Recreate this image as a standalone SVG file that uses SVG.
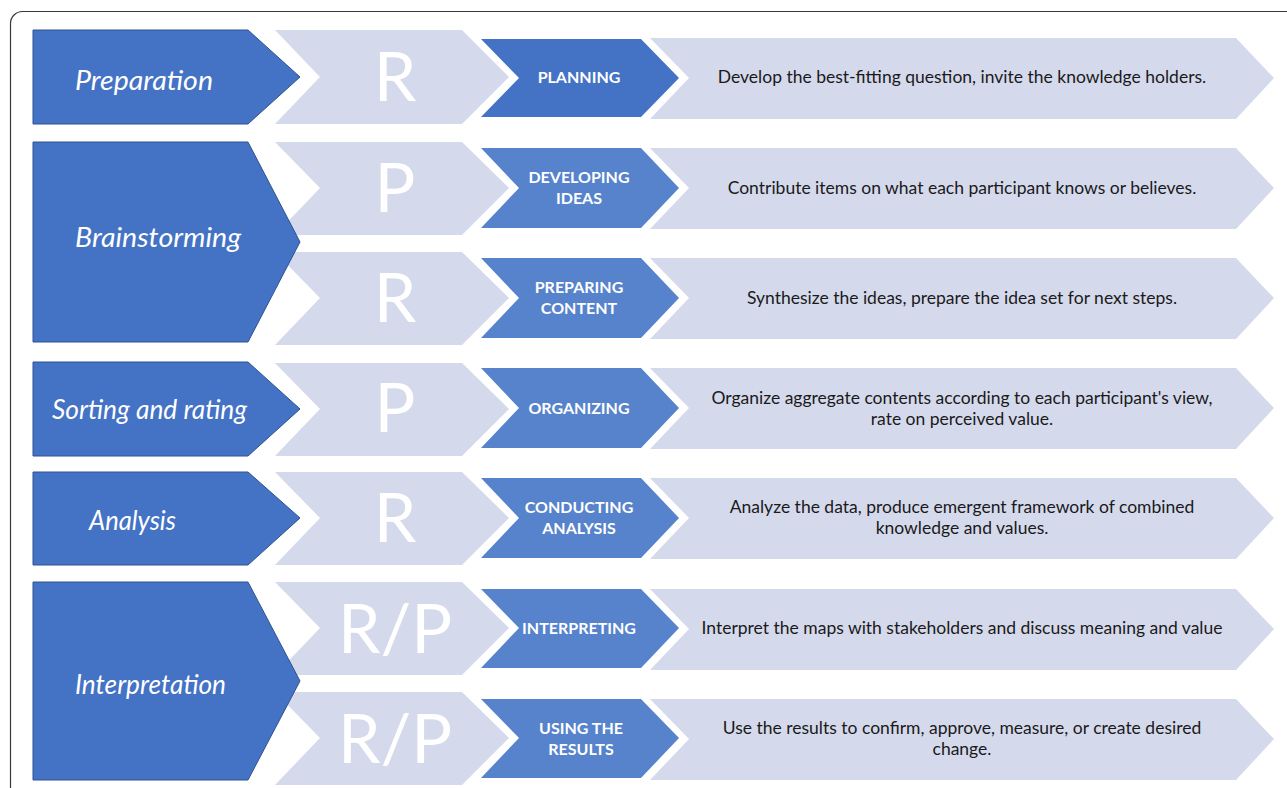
<svg xmlns="http://www.w3.org/2000/svg" width="1287" height="788" viewBox="0 0 1287 788">
<style>
.frame{fill:#fff;stroke:#3a3a3a;stroke-width:1.2}
.phase{fill:#4472C4;stroke:#2F528F;stroke-width:1}
.light{fill:#D5D9EC}
.sub{fill:#5683CB}
.sub1{fill:#4472C4}
.desc{fill:#D5D9EC}
.pt{font-family:Lato,"Open Sans",sans-serif;font-style:italic;font-size:27px;fill:#fff}
.big{font-family:Lato,"Open Sans",sans-serif;font-weight:normal;font-size:68px;fill:#fff;text-anchor:middle}
.st{font-family:Lato,"Open Sans",sans-serif;font-weight:bold;font-size:16px;fill:#fff;text-anchor:middle}
.dt{font-family:Lato,"Open Sans",sans-serif;font-size:17.5px;fill:#1a1a1a;text-anchor:middle}
</style>
<rect class="frame" x="10.5" y="11.5" width="1320" height="820" rx="12"/>

<g id="row1">
<polygon class="light" points="275,30 462,30 509,77 462,124 275,124 320,77"/>
<text class="big" x="395" y="101">R</text>
<polygon class="sub1" points="481,39 641,39 679,78 641,117 481,117 519,78"/>
<text class="st" x="579" y="83">PLANNING</text>
<polygon class="desc" points="650,38 1236,38 1274,78 1236,119 650,119 689,78"/>
<text class="dt" x="962" y="83">Develop the best-fitting question, invite the knowledge holders.</text>
</g>

<g id="row2a">
<polygon class="light" points="275,142 462,142 509,188 462,235 275,235 320,188"/>
<text class="big" x="395" y="212">P</text>
<polygon class="sub" points="481,148 641,148 679,188 641,228 481,228 519,188"/>
<text class="st" x="579" y="183">DEVELOPING</text>
<text class="st" x="579" y="204">IDEAS</text>
<polygon class="desc" points="650,148 1236,148 1274,188 1236,229 650,229 689,188"/>
<text class="dt" x="962" y="194">Contribute items on what each participant knows or believes.</text>
</g>

<g id="row2b">
<polygon class="light" points="275,252 462,252 509,298 462,345 275,345 320,298"/>
<text class="big" x="395" y="322">R</text>
<polygon class="sub" points="481,258 641,258 679,298 641,338 481,338 519,298"/>
<text class="st" x="579" y="293">PREPARING</text>
<text class="st" x="579" y="314">CONTENT</text>
<polygon class="desc" points="650,258 1236,258 1274,298 1236,339 650,339 689,298"/>
<text class="dt" x="962" y="304">Synthesize the ideas, prepare the idea set for next steps.</text>
</g>

<g id="row3">
<polygon class="light" points="275,363 462,363 509,409 462,456 275,456 320,409"/>
<text class="big" x="395" y="432">P</text>
<polygon class="sub" points="481,368 641,368 679,408 641,448 481,448 519,408"/>
<text class="st" x="579" y="414">ORGANIZING</text>
<polygon class="desc" points="650,368 1236,368 1274,408 1236,449 650,449 689,408"/>
<text class="dt" x="962" y="404">Organize aggregate contents according to each participant's view,</text>
<text class="dt" x="962" y="425">rate on perceived value.</text>
</g>

<g id="row4">
<polygon class="light" points="275,472 462,472 509,518 462,565 275,565 320,518"/>
<text class="big" x="395" y="542">R</text>
<polygon class="sub" points="481,478 641,478 679,518 641,558 481,558 519,518"/>
<text class="st" x="579" y="513">CONDUCTING</text>
<text class="st" x="579" y="534">ANALYSIS</text>
<polygon class="desc" points="650,478 1236,478 1274,518 1236,559 650,559 689,518"/>
<text class="dt" x="962" y="513">Analyze the data, produce emergent framework of combined</text>
<text class="dt" x="962" y="534">knowledge and values.</text>
</g>

<g id="row5a">
<polygon class="light" points="275,582 462,582 509,628 462,675 275,675 320,628"/>
<text class="big" x="395" y="653">R/P</text>
<polygon class="sub" points="481,589 641,589 679,628 641,668 481,668 519,628"/>
<text class="st" x="579" y="634">INTERPRETING</text>
<polygon class="desc" points="650,589 1236,589 1274,629 1236,670 650,670 689,629"/>
<text class="dt" x="962" y="634">Interpret the maps with stakeholders and discuss meaning and value</text>
</g>

<g id="row5b">
<polygon class="light" points="275,692 462,692 509,738 462,785 275,785 320,738"/>
<text class="big" x="395" y="763">R/P</text>
<polygon class="sub" points="481,699 641,699 679,738 641,778 481,778 519,738"/>
<text class="st" x="581" y="734">USING THE</text>
<text class="st" x="581" y="755">RESULTS</text>
<polygon class="desc" points="650,699 1236,699 1274,739 1236,780 650,780 689,739"/>
<text class="dt" x="962" y="734">Use the results to confirm, approve, measure, or create desired</text>
<text class="dt" x="962" y="755">change.</text>
</g>

<g id="phase-preparation">
<polygon class="phase" points="33,30 248,30 300,77 248,124 33,124"/>
<text class="pt" x="75" y="90" textLength="138" lengthAdjust="spacingAndGlyphs">Preparation</text>
</g>
<g id="phase-brainstorming">
<polygon class="phase" points="33,142 248,142 300,242 248,342 33,342"/>
<text class="pt" x="75" y="247" textLength="166" lengthAdjust="spacingAndGlyphs">Brainstorming</text>
</g>
<g id="phase-sorting">
<polygon class="phase" points="33,362 248,362 300,409 248,456 33,456"/>
<text class="pt" x="52" y="419" textLength="195" lengthAdjust="spacingAndGlyphs">Sorting and rating</text>
</g>
<g id="phase-analysis">
<polygon class="phase" points="33,472 248,472 300,518 248,565 33,565"/>
<text class="pt" x="89" y="530" textLength="87" lengthAdjust="spacingAndGlyphs">Analysis</text>
</g>
<g id="phase-interpretation">
<polygon class="phase" points="33,582 248,582 300,681 248,780 33,780"/>
<text class="pt" x="75" y="694" textLength="151" lengthAdjust="spacingAndGlyphs">Interpretation</text>
</g>

<g id="connectors"></g>
</svg>
